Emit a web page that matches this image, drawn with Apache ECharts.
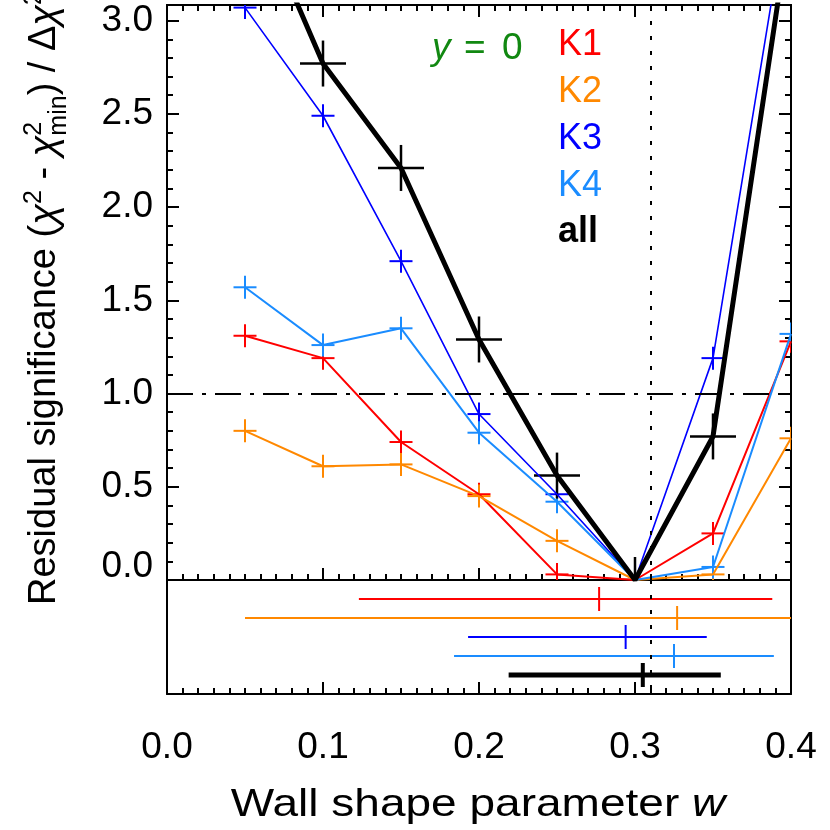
<!DOCTYPE html>
<html>
<head>
<meta charset="utf-8">
<script src="https://cdn.jsdelivr.net/npm/echarts@6/dist/echarts.min.js"></script>
<style>
html,body{margin:0;padding:0;background:#fff;}
#main{width:830px;height:830px;}
</style>
</head>
<body>
<div id="main"></div>
<script>
// grid of wall shape values
var wGrid = [0.05, 0.10, 0.15, 0.20, 0.25, 0.30, 0.35, 0.40];
// residual significance per fit
var sigK1 = [1.31, 1.19, 0.74, 0.46, 0.03, 0.00, 0.25, 1.28];
var sigK2 = [0.80, 0.61, 0.62, 0.45, 0.21, 0.00, 0.03, 0.76];
var sigK3 = [3.07, 2.49, 1.71, 0.89, 0.46, 0.00, 1.19, 3.74];
var sigK4 = [1.57, 1.26, 1.35, 0.79, 0.42, 0.00, 0.07, 1.32];
var sigAll = [3.74, 2.77, 2.21, 1.29, 0.56, 0.00, 0.77, 3.57];

// best w and range (lower panel)
var fitNames = ['K1', 'K2', 'K3', 'K4', 'all'];
var fitBest = [0.277, 0.327, 0.294, 0.325, 0.305];
var fitLow = [0.123, 0.050, 0.193, 0.184, 0.219];
var fitHigh = [0.388, 0.420, 0.346, 0.389, 0.355];
var wAdopted = 0.31;
var sigLevel = 1.0;

var colors = {K1:'#ff0000', K2:'#ff8800', K3:'#0000ff', K4:'#1a8cff', all:'#000000'};
var FONT = '"Liberation Sans", Arial, Helvetica, sans-serif';
var green = '#118811';

var myChart = echarts.init(document.getElementById('main'));

//十字标记
function crossSeries(vals, color, half, lw){
	return {
		type:'custom', xAxisIndex:0, yAxisIndex:0, clip:true, z:3,
		data: wGrid.map(function(w, i){ return [w, vals[i]]; }),
		encode:{x:0, y:1},
		renderItem:function(params, api){
			var p = api.coord([api.value(0), api.value(1)]);
			return {type:'group', children:[
				{type:'line', shape:{x1:p[0]-half, y1:p[1], x2:p[0]+half, y2:p[1]}, style:{stroke:color, lineWidth:lw}},
				{type:'line', shape:{x1:p[0], y1:p[1]-half, x2:p[0], y2:p[1]+half}, style:{stroke:color, lineWidth:lw}}
			]};
		}
	};
}
function lineSeries(vals, color, lw){
	return {
		type:'line', xAxisIndex:0, yAxisIndex:0, clip:true, z:3,
		data: wGrid.map(function(w, i){ return [w, vals[i]]; }),
		symbol:'none',
		lineStyle:{color:color, width:lw}
	};
}

var tickLine = {color:'#000', width:2};
function xAx(gridIndex, pos, showLabel, showTicks){
	return {
		type:'value', gridIndex:gridIndex, position:pos, min:0, max:0.4, interval:0.1,
		axisLine:{show:true, onZero:false, lineStyle:tickLine},
		axisTick:{show:showTicks, inside:true, length:12, lineStyle:tickLine},
		minorTick:{show:showTicks, splitNumber:10, length:6, lineStyle:tickLine},
		splitLine:{show:false},
		axisLabel:{show:showLabel, color:'#000', fontFamily:FONT, fontSize:37, margin:35,
			formatter:function(v){ return v.toFixed(1); }}
	};
}
function yAx(pos, interval, tickLen, showLabel){
	return {
		type:'value', gridIndex:0, position:pos, min:0, max:3.084, interval:interval,
		axisLine:{show:true, lineStyle:tickLine},
		axisTick:{show:true, inside:true, length:tickLen, lineStyle:tickLine},
		splitLine:{show:false},
		axisLabel:{show:showLabel, color:'#000', fontFamily:FONT, fontSize:37, margin:14, showMaxLabel:false,
			formatter:function(v){
				if(Math.abs(v*2 - Math.round(v*2)) > 1e-6) return '';
				if(Math.abs(v) < 1e-9) return '{z|0.0}';
				return v.toFixed(1);
			},
			rich:{z:{fontFamily:FONT, fontSize:37, color:'#000', padding:[0,0,26,0]}}}
	};
}

// y轴标题
var ctx = document.createElement('canvas').getContext('2d');
function tw(s, f){ ctx.font = f; return ctx.measureText(s).width; }
var fMain = '38px "Liberation Sans"';
var fSmall = '25px "Liberation Sans"';
var titleKids = [];
var cx = 0;
function addTxt(s, f, dy, fontSize, italic){
	titleKids.push({type:'text', x:cx, y:dy, style:{text:s, fontFamily:FONT, fontSize:fontSize,
		fontStyle: italic ? 'italic' : 'normal', fill:'#000', verticalAlign:'middle', textAlign:'left'}});
	return tw(s, (italic ? 'italic ' : '') + f);
}
cx += addTxt('Residual significance (', fMain, 0, 38);
cx += addTxt('\u03c7', fMain, 0, 38, true);
cx += addTxt('2', fSmall, -11, 25);
cx += addTxt(' - ', fMain, 0, 38);
cx += addTxt('\u03c7', fMain, 0, 38, true);
var w2 = addTxt('2', fSmall, -11, 25);
var wm = addTxt('min', fSmall, 14, 25);
cx += Math.max(w2, wm);
cx += addTxt(') / \u0394', fMain, 0, 38);
cx += addTxt('\u03c7', fMain, 0, 38, true);
cx += addTxt('2', fSmall, -11, 25);

var legendY = [45, 92, 139, 186, 232];
var graphics = [
	{type:'group', rotation:Math.PI/2, x:45, y:605, children:titleKids},
	// x轴标题
	{type:'text', x:478, y:805, scaleX:1.18, style:{text:'Wall shape parameter {i|w}', fontFamily:FONT, fontSize:39,
		fill:'#000', textAlign:'center', verticalAlign:'middle',
		rich:{i:{fontStyle:'italic', fontFamily:FONT, fontSize:39, fill:'#000'}}}},
	{type:'text', x:432, y:49, style:{text:'y', fontFamily:FONT, fontSize:37, fontStyle:'italic', fill:green, verticalAlign:'middle'}},
	{type:'text', x:464, y:49, style:{text:'=', fontFamily:FONT, fontSize:37, fill:green, verticalAlign:'middle'}},
	{type:'text', x:502, y:49, style:{text:'0', fontFamily:FONT, fontSize:37, fill:green, verticalAlign:'middle'}}
];
for(var i=0;i<fitNames.length;i++){
	graphics.push({type:'text', x:558, y:legendY[i], style:{text:fitNames[i], fontFamily:FONT, fontSize:36,
		fontWeight: fitNames[i]=='all' ? 'bold' : 'normal', fill:colors[fitNames[i]], verticalAlign:'middle'}});
}

var option = {
	animation:false,
	backgroundColor:'#fff',
	grid:[
		{left:167, top:5, width:624, height:575, outerBoundsMode:'none', containLabel:false},
		{left:167, top:580, width:624, height:114, outerBoundsMode:'none', containLabel:false}
	],
	xAxis:[
		xAx(0, 'bottom', false, true),
		xAx(0, 'top', false, true),
		xAx(1, 'bottom', true, true)
	],
	yAxis:[
		yAx('left', 0.5, 12, true),
		yAx('left', 0.1, 6, false),
		yAx('right', 0.5, 12, false),
		yAx('right', 0.1, 6, false),
		{type:'value', gridIndex:1, position:'left', min:0, max:6, inverse:true,
			axisLine:{show:true, lineStyle:tickLine}, axisTick:{show:false}, axisLabel:{show:false}, splitLine:{show:false}},
		{type:'value', gridIndex:1, position:'right', min:0, max:6, inverse:true,
			axisLine:{show:true, lineStyle:tickLine}, axisTick:{show:false}, axisLabel:{show:false}, splitLine:{show:false}}
	],
	graphic:graphics,
	series:[
		{
			type:'line', xAxisIndex:0, yAxisIndex:0, data:[], z:2,
			markLine:{silent:true, symbol:['none','none'], label:{show:false}, animation:false,
				data:[
					{yAxis:sigLevel, lineStyle:{color:'#000', width:2, type:[26,9,4,9]}},
					{xAxis:wAdopted, lineStyle:{color:'#000', width:2, type:[4,11]}}
				]}
		},
		lineSeries(sigK1, colors.K1, 2), crossSeries(sigK1, colors.K1, 11.5, 2),
		lineSeries(sigK2, colors.K2, 2), crossSeries(sigK2, colors.K2, 11.5, 2),
		lineSeries(sigK3, colors.K3, 1.6), crossSeries(sigK3, colors.K3, 11.5, 2),
		lineSeries(sigK4, colors.K4, 2), crossSeries(sigK4, colors.K4, 11.5, 2),
		lineSeries(sigAll, colors.all, 5), crossSeries(sigAll, colors.all, 23, 2.5),
		{
			type:'custom', xAxisIndex:2, yAxisIndex:4, clip:true, z:3,
			data: fitNames.map(function(n, i){ return [i+1, fitLow[i], fitBest[i], fitHigh[i]]; }),
			encode:{x:[1,2,3], y:0},
			renderItem:function(params, api){
				var idx = params.dataIndex;
				var c = colors[fitNames[idx]];
				var thick = fitNames[idx]=='all';
				var a = api.coord([api.value(1), api.value(0)]);
				var m = api.coord([api.value(2), api.value(0)]);
				var b = api.coord([api.value(3), api.value(0)]);
				return {type:'group', children:[
					{type:'line', shape:{x1:a[0], y1:a[1], x2:b[0], y2:b[1]}, style:{stroke:c, lineWidth: thick ? 5 : 2}},
					{type:'line', shape:{x1:m[0], y1:m[1]-12, x2:m[0], y2:m[1]+12}, style:{stroke:c, lineWidth: thick ? 4 : 2}}
				]};
			},
			markLine:{silent:true, symbol:['none','none'], label:{show:false}, animation:false,
				data:[{xAxis:wAdopted, lineStyle:{color:'#000', width:2, type:[4,11]}}]}
		}
	]
};
myChart.setOption(option);
</script>
</body>
</html>
